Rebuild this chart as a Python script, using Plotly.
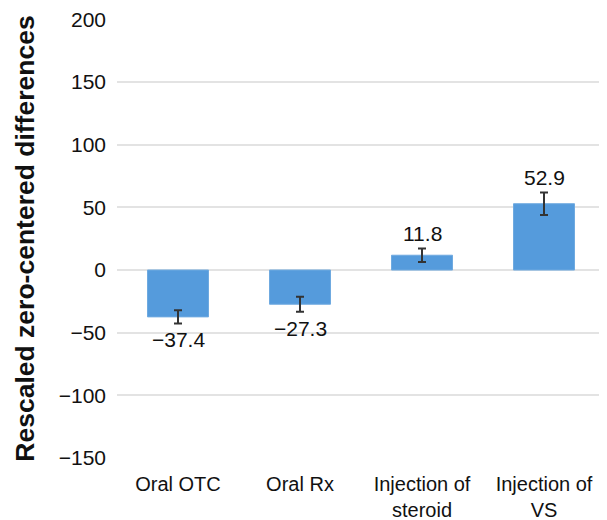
import plotly.graph_objects as go

categories = ["Oral OTC", "Oral Rx", "Injection of<br>steroid", "Injection of<br>VS"]
values = [-37.4, -27.3, 11.8, 52.9]
errors = [5.2, 6.0, 5.4, 9.0]
labels = ["\u221237.4", "\u221227.3", "11.8", "52.9"]
y_ticks = [-150, -100, -50, 0, 50, 100, 150, 200]
y_tick_text = ["\u2212150", "\u2212100", "\u221250", "0", "50", "100", "150", "200"]

fig = go.Figure()
fig.add_trace(go.Bar(
    x=categories, y=values, width=0.5,
    marker=dict(color="#559BDC", line=dict(color="#6FAAE0", width=1)),
    error_y=dict(type="data", array=errors, visible=True, color="#333333",
                 thickness=2, width=4),
))

for c, v, e, t in zip(categories, values, errors, labels):
    if v < 0:
        fig.add_annotation(x=c, y=v - e, text=t, showarrow=False,
                           yanchor="top", yshift=-3,
                           font=dict(size=21, color="#111111"))
    else:
        fig.add_annotation(x=c, y=v + e, text=t, showarrow=False,
                           yanchor="bottom", yshift=1,
                           font=dict(size=21, color="#111111"))

fig.update_layout(
    width=599, height=512,
    margin=dict(l=109, r=2, t=11, b=62, autoexpand=False),
    plot_bgcolor="white", paper_bgcolor="white",
    font=dict(family="Liberation Sans, Arial, sans-serif", size=21, color="#111111"),
    showlegend=False,
)
fig.update_xaxes(showgrid=False, showline=False, ticks="", ticklabelstandoff=12,
                 automargin=False, tickfont=dict(size=20))
fig.update_yaxes(
    range=[-150, 200.3], tickvals=y_ticks, ticktext=y_tick_text,
    showgrid=True, gridcolor="#E3E3E3", gridwidth=1.5,
    zeroline=True, zerolinecolor="#E3E3E3", zerolinewidth=1.5,
    showline=False, ticks="", ticklabelstandoff=10, ticklabeloverflow="allow",
    automargin=False, tickfont=dict(size=21),
    title=dict(text="<b>Rescaled zero-centered differences</b>",
               font=dict(size=26.5), standoff=16),
)

fig.write_html("out.html")
